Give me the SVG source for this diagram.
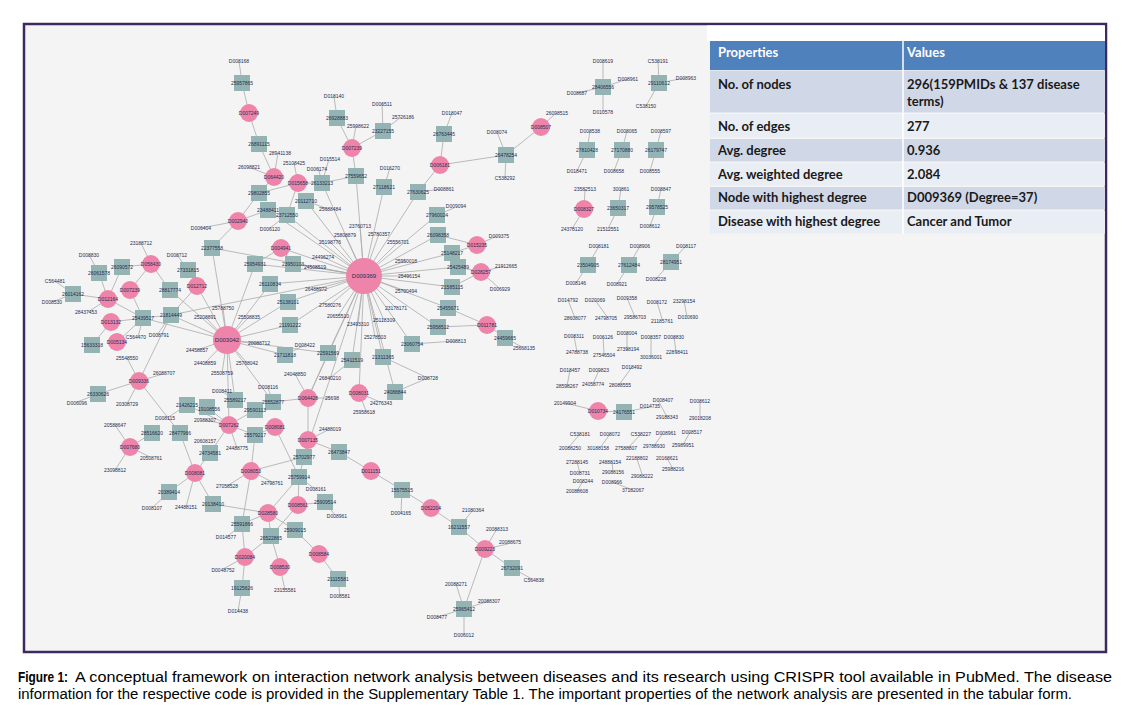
<svg xmlns="http://www.w3.org/2000/svg" width="1130" height="709" viewBox="0 0 1130 709">
<defs><style>
.e{stroke:#ababab;stroke-width:0.8;fill:none}
.p{fill:#ef84aa}
.s{fill:#94b4b4}
.t{font-family:'Liberation Sans',Arial,sans-serif;font-size:5px;fill:#1f2d50;text-anchor:middle;dominant-baseline:central}
.th{font-family:Lato,'Open Sans',sans-serif;font-size:13px;font-weight:bold;fill:#ffffff}
.tc{font-family:Lato,'Open Sans',sans-serif;font-size:13px;font-weight:bold;fill:#1a1a1a}
.cap{font-family:'Liberation Sans',Arial,sans-serif;font-size:14px;fill:#000}
</style></defs>
<rect x="0" y="0" width="1130" height="709" fill="#ffffff"/>
<rect x="24" y="24" width="1082" height="628" fill="#f4f4f4" stroke="#3f2860" stroke-width="2.5"/>
<rect x="707" y="25.5" width="398" height="16" fill="#ffffff"/>

<g id="connectors" class="e">
<path d="M239 61L242 83M242 83L249 113M249 113L259 144M259 144L274 177M278 153L274 177M251 168L274 177M274 177L259 193M298 183L259 193M298 183L294 163M298 183L322 183M298 183L287 215M322 183L318 167M322 183L329 159M322 183L356 176M356 176L352 148M352 148L337 118M337 118L334 96M352 148L356 126M352 148L383 131M383 131L382 104M383 131L401 117M356 176L364 276"/>
<path d="M440 165L444 134M444 134L452 113M440 165L418 192M418 192L442 189M418 192L364 276M440 165L506 155M506 155L497 132M506 155L505 178M506 155L541 127M541 127L555 114M384 187L390 168M384 187L364 276M437 215L454 208M437 215L364 276"/>
<path d="M238 221L268 210M238 221L201 228M268 210L364 276M287 215L270 228M287 215L364 276M306 201L328 209M306 201L364 276M259 193L238 221M238 221L212 248M322 183L364 276"/>
<path d="M603 87L603 61M603 87L628 79M603 87L577 93M603 87L603 112M659 83L658 61M659 83L685 78M659 83L646 106M587 150L590 131M587 150L577 171M622 150L627 131M622 150L614 171M656 150L661 131M656 150L650 171M584 209L585 189M584 209L572 229M618 208L621 189M618 208L608 229M657 207L661 189M657 207L650 226"/>
<path d="M588 265L599 246M588 265L576 283M629 265L640 246M629 265L617 284M671 262L686 246M671 262L656 279M568 300L575 318M595 300L608 318M627 298L635 317M657 302L662 319M684 301L687 317M574 336L577 352M603 337L604 354M627 333L627 351M651 337L651 357M674 337L676 352M570 370L567 386M599 370L593 384M632 367L619 385"/>
<path d="M598 411L565 403M598 411L624 412M624 412L650 407M659 402L667 417M700 401L700 418M580 434L568 448M610 434L600 448M641 434L628 448M663 433L654 446M690 432L683 445M577 462L580 473M612 462L613 472M637 459L642 474M667 458L673 469M583 481L577 491M612 482L633 490"/>
<path d="M364 276L360 226M364 276L345 235M364 276L330 242M364 276L379 234M364 276L398 242M364 276L323 257M364 276L406 261M364 276L315 267M364 276L409 276M364 276L316 289M364 276L406 291M364 276L330 305M364 276L396 308M364 276L338 316M364 276L384 320M364 276L358 324M364 276L375 337"/>
<path d="M364 276L438 235M364 276L452 253M364 276L458 267M364 276L452 287M364 276L448 308M364 276L438 327M477 245L438 235M477 245L452 253M481 272L458 267M481 272L452 287M481 272L504 266M481 272L499 288M487 325L448 308M487 325L438 327M487 325L505 338M505 338L522 347M364 276L412 344M412 344L456 341M477 245L497 236"/>
<path d="M364 276L352 360M364 276L383 357M364 276L328 353M364 276L290 325M364 276L288 302M364 276L308 398M364 276L395 392M364 276L359 393M364 276L304 457M364 276L281 248M364 276L293 264M364 276L255 264M364 276L270 284M364 276L212 248M364 276L171 315M352 360L330 378M383 357L428 378M395 392L428 378M359 393L380 402M359 393L366 411M281 248L255 264M281 248L293 264"/>
<path d="M227 340L223 308M227 340L205 317M227 340L249 317M227 340L197 350M227 340L205 363M227 340L222 373M227 340L247 363M227 340L259 343M227 340L290 325M227 340L285 355M227 340L171 315M227 340L143 318M227 340L197 286M227 340L170 290M227 340L212 248M227 340L255 264M227 340L270 284M227 340L273 402M227 340L235 400M227 340L229 425M227 340L288 302M227 340L328 353M285 355L303 346M328 353L308 398M308 398L295 374M308 398L330 398M308 398L273 402M308 398L308 440M268 388L273 402M223 392L235 400"/>
<path d="M89 255L99 273M99 273L108 299M122 267L151 264M122 267L108 299M141 243L151 264M151 264L170 290M55 281L73 294M52 302L73 294M73 294L108 299M88 312L108 299M130 290L143 318M108 299L143 318M111 322L143 318M111 322L92 345M117 342L143 318M138 337L143 318M143 318L171 315M171 315L157 335M177 255L188 270M188 270L197 286M197 286L171 315M130 290L151 264M127 358L139 381M139 381L98 394M139 381L163 374M139 381L127 404M139 381L171 315M139 381L180 433M98 394L77 402M167 418L187 405M187 405L229 425M207 407L229 425M115 425L130 447M130 447L150 457M130 447L115 470M130 447L152 433"/>
<path d="M229 425L255 410M229 425L210 453M229 425L205 420M229 425L237 448M229 425L255 435M275 427L255 435M275 427L299 477M308 440L339 452M308 440L304 457M308 440L328 430M304 457L251 471M304 457L299 477M251 471L255 435M251 471L227 486M251 471L272 482M251 471L242 524M299 477L298 505M299 477L268 513M299 477L315 489M195 473L210 453M195 473L169 492M195 473L186 507M195 473L213 504M195 473L180 433M169 492L152 508M213 504L268 513M268 513L242 524M268 513L271 536M268 513L295 530M298 505L325 502M298 505L271 536M325 502L335 515M242 524L245 557M242 524L228 536M271 536L245 557M271 536L280 567M295 530L319 554M319 554L338 579M338 579L340 596M245 557L242 588M245 557L223 569M242 588L238 611M280 567L285 590M339 452L371 471M371 471L402 490"/>
<path d="M402 490L401 513M402 490L431 508M431 508L459 527M459 527L473 510M459 527L485 549M485 549L497 529M485 549L508 544M485 549L512 568M512 568L532 579M485 549L464 609M464 609L456 584M464 609L489 601M464 609L437 617M464 609L464 635"/>
</g>

<g id="node-top-chain">
<g id="n1"><text class="t" x="239" y="61">D008168</text></g>
<g id="n2"><rect class="s" x="234" y="75" width="16" height="16"/><text class="t" x="242" y="83">25957865</text></g>
<g id="n3"><circle class="p" cx="249" cy="113" r="9"/><text class="t" x="249" y="113">D007249</text></g>
<g id="n4"><rect class="s" x="251" y="136" width="16" height="16"/><text class="t" x="259" y="144">26891115</text></g>
<g id="n5"><circle class="p" cx="274" cy="177" r="9"/><text class="t" x="274" y="177">D064420</text></g>
<g id="n6"><text class="t" x="280" y="153">28941138</text></g>
<g id="n7"><text class="t" x="249" y="167">26098821</text></g>
<g id="n8"><circle class="p" cx="298" cy="183" r="9"/><text class="t" x="298" y="183">D015658</text></g>
<g id="n9"><text class="t" x="294" y="163">25108425</text></g>
<g id="n10"><text class="t" x="317" y="169">D006174</text></g>
<g id="n11"><text class="t" x="330" y="159">D015514</text></g>
<g id="n12"><rect class="s" x="314" y="175" width="16" height="16"/><text class="t" x="322" y="183">26133213</text></g>
<g id="n13"><rect class="s" x="251" y="185" width="16" height="16"/><text class="t" x="259" y="193">29802855</text></g>
<g id="n14"><rect class="s" x="348" y="168" width="16" height="16"/><text class="t" x="356" y="176">27559652</text></g>
<g id="n15"><circle class="p" cx="352" cy="148" r="9"/><text class="t" x="352" y="148">D007239</text></g>
<g id="n16"><rect class="s" x="329" y="110" width="16" height="16"/><text class="t" x="337" y="118">26928883</text></g>
<g id="n17"><text class="t" x="334" y="96">D018140</text></g>
<g id="n18"><text class="t" x="358" y="126">25998622</text></g>
<g id="n19"><rect class="s" x="375" y="123" width="16" height="16"/><text class="t" x="383" y="131">23227155</text></g>
<g id="n20"><text class="t" x="382" y="104">D006511</text></g>
<g id="n21"><text class="t" x="403" y="117">25726186</text></g>
<g id="n22"><circle class="p" cx="440" cy="165" r="9"/><text class="t" x="440" y="165">D006181</text></g>
<g id="n23"><rect class="s" x="436" y="126" width="16" height="16"/><text class="t" x="444" y="134">26763445</text></g>
<g id="n24"><text class="t" x="452" y="113">D018047</text></g>
<g id="n25"><rect class="s" x="410" y="184" width="16" height="16"/><text class="t" x="418" y="192">27630625</text></g>
<g id="n26"><text class="t" x="444" y="189">D008861</text></g>
<g id="n27"><rect class="s" x="376" y="179" width="16" height="16"/><text class="t" x="384" y="187">27118621</text></g>
<g id="n28"><text class="t" x="390" y="168">D016270</text></g>
<g id="n29"><rect class="s" x="429" y="207" width="16" height="16"/><text class="t" x="437" y="215">27960024</text></g>
<g id="n30"><text class="t" x="456" y="206">D009094</text></g>
<g id="n31"><rect class="s" x="498" y="147" width="16" height="16"/><text class="t" x="506" y="155">26478254</text></g>
<g id="n32"><text class="t" x="497" y="132">D008074</text></g>
<g id="n33"><text class="t" x="505" y="178">C538292</text></g>
<g id="n34"><circle class="p" cx="541" cy="127" r="9"/><text class="t" x="541" y="127">D008507</text></g>
<g id="n35"><text class="t" x="557" y="113">26098515</text></g>
<g id="n36"><circle class="p" cx="238" cy="221" r="9"/><text class="t" x="238" y="221">D002940</text></g>
<g id="n37"><rect class="s" x="260" y="202" width="16" height="16"/><text class="t" x="268" y="210">23488411</text></g>
<g id="n38"><text class="t" x="201" y="228">D006404</text></g>
<g id="n39"><rect class="s" x="279" y="207" width="16" height="16"/><text class="t" x="287" y="215">23712550</text></g>
<g id="n40"><text class="t" x="270" y="229">D006120</text></g>
<g id="n41"><rect class="s" x="298" y="193" width="16" height="16"/><text class="t" x="306" y="201">20112710</text></g>
<g id="n42"><text class="t" x="330" y="209">25688484</text></g>
</g>

<g id="node-top-right">
<g id="n50"><rect class="s" x="595" y="79" width="16" height="16"/><text class="t" x="603" y="87">28406556</text></g>
<g id="n51"><text class="t" x="603" y="61">D008619</text><text class="t" x="628" y="79">D008961</text><text class="t" x="577" y="93">D008687</text><text class="t" x="603" y="112">D010578</text></g>
<g id="n52"><rect class="s" x="651" y="75" width="16" height="16"/><text class="t" x="659" y="83">29110612</text></g>
<g id="n53"><text class="t" x="658" y="61">C538191</text><text class="t" x="686" y="78">D008963</text><text class="t" x="646" y="106">C538150</text></g>
<g id="n54"><rect class="s" x="579" y="142" width="16" height="16"/><text class="t" x="587" y="150">27810428</text><text class="t" x="590" y="131">D008538</text><text class="t" x="577" y="171">D018471</text></g>
<g id="n55"><rect class="s" x="614" y="142" width="16" height="16"/><text class="t" x="622" y="150">27170880</text><text class="t" x="627" y="131">D008065</text><text class="t" x="614" y="171">D008658</text></g>
<g id="n56"><rect class="s" x="648" y="142" width="16" height="16"/><text class="t" x="656" y="150">26179747</text><text class="t" x="661" y="131">D008597</text><text class="t" x="650" y="171">D008555</text></g>
<g id="n57"><circle class="p" cx="584" cy="209" r="9"/><text class="t" x="584" y="209">D008327</text><text class="t" x="585" y="189">23582513</text><text class="t" x="572" y="229">24378120</text></g>
<g id="n58"><rect class="s" x="610" y="200" width="16" height="16"/><text class="t" x="618" y="208">23650317</text><text class="t" x="621" y="189">300861</text><text class="t" x="608" y="229">21512551</text></g>
<g id="n59"><rect class="s" x="649" y="199" width="16" height="16"/><text class="t" x="657" y="207">29578525</text><text class="t" x="661" y="189">D008847</text><text class="t" x="650" y="226">D008612</text></g>
<g id="n60"><rect class="s" x="580" y="257" width="16" height="16"/><text class="t" x="588" y="265">23504905</text><text class="t" x="599" y="246">D008181</text><text class="t" x="576" y="283">D008146</text></g>
<g id="n61"><rect class="s" x="621" y="257" width="16" height="16"/><text class="t" x="629" y="265">27612484</text><text class="t" x="640" y="246">D008906</text><text class="t" x="617" y="284">D008921</text></g>
<g id="n62"><rect class="s" x="663" y="254" width="16" height="16"/><text class="t" x="671" y="262">28174951</text><text class="t" x="686" y="246">D008117</text><text class="t" x="656" y="279">D008228</text></g>
<g id="n63"><text class="t" x="568" y="300">D014792</text><text class="t" x="575" y="318">28608077</text></g>
<g id="n64"><text class="t" x="595" y="300">D020069</text><text class="t" x="606" y="318">24798705</text></g>
<g id="n65"><text class="t" x="627" y="298">D009358</text><text class="t" x="635" y="317">29586703</text></g>
<g id="n66"><text class="t" x="657" y="302">D008172</text><text class="t" x="662" y="321">21185761</text></g>
<g id="n67"><text class="t" x="684" y="301">23298154</text><text class="t" x="688" y="317">D010690</text></g>
<g id="n68"><text class="t" x="574" y="336">D008311</text><text class="t" x="577" y="352">24788738</text></g>
<g id="n69"><text class="t" x="603" y="337">D006126</text><text class="t" x="604" y="355">27546504</text></g>
<g id="n70"><text class="t" x="627" y="333">D008004</text><text class="t" x="628" y="349">27398194</text></g>
<g id="n71"><text class="t" x="651" y="337">D008357</text><text class="t" x="651" y="357">30036001</text></g>
<g id="n72"><text class="t" x="674" y="337">D008830</text><text class="t" x="677" y="352">22898411</text></g>
<g id="n73"><text class="t" x="570" y="370">D018457</text><text class="t" x="567" y="386">28598267</text></g>
<g id="n74"><text class="t" x="599" y="370">D009823</text><text class="t" x="593" y="384">24058774</text></g>
<g id="n75"><text class="t" x="632" y="367">D018492</text><text class="t" x="620" y="385">28088555</text></g>
<g id="n76"><circle class="p" cx="598" cy="411" r="9"/><text class="t" x="598" y="411">D010734</text><text class="t" x="565" y="403">20149904</text></g>
<g id="n77"><rect class="s" x="616" y="404" width="16" height="16"/><text class="t" x="624" y="412">24176551</text><text class="t" x="650" y="406">D014735</text></g>
<g id="n78"><text class="t" x="663" y="400">D008407</text><text class="t" x="667" y="417">29188343</text></g>
<g id="n79"><text class="t" x="700" y="401">D008612</text><text class="t" x="700" y="418">29018208</text></g>
<g id="n80"><text class="t" x="580" y="434">C538181</text><text class="t" x="570" y="448">20088250</text></g>
<g id="n81"><text class="t" x="610" y="434">D008072</text><text class="t" x="598" y="448">30188158</text></g>
<g id="n82"><text class="t" x="641" y="434">C538227</text><text class="t" x="626" y="448">27588807</text></g>
<g id="n83"><text class="t" x="666" y="433">D008961</text><text class="t" x="654" y="446">29788930</text></g>
<g id="n84"><text class="t" x="692" y="432">D008517</text><text class="t" x="683" y="445">25989951</text></g>
<g id="n85"><text class="t" x="577" y="462">27288145</text><text class="t" x="580" y="473">D008731</text></g>
<g id="n86"><text class="t" x="610" y="462">24888154</text><text class="t" x="613" y="472">29088156</text></g>
<g id="n87"><text class="t" x="637" y="458">22188802</text><text class="t" x="642" y="476">29088222</text></g>
<g id="n88"><text class="t" x="667" y="458">20168621</text><text class="t" x="673" y="469">25988216</text></g>
<g id="n89"><text class="t" x="583" y="481">D008244</text><text class="t" x="577" y="491">20088608</text></g>
<g id="n90"><text class="t" x="612" y="482">D008966</text><text class="t" x="633" y="490">37182067</text></g>
</g>

<g id="node-hub-area">
<g id="n100"><text class="t" x="360" y="226">23760713</text><text class="t" x="345" y="235">25808879</text><text class="t" x="330" y="242">25198776</text><text class="t" x="379" y="234">25780357</text><text class="t" x="398" y="242">25556701</text><text class="t" x="323" y="257">24496274</text><text class="t" x="406" y="261">25950018</text><text class="t" x="315" y="267">24508519</text><text class="t" x="409" y="276">25496154</text><text class="t" x="316" y="289">26488972</text><text class="t" x="406" y="291">25700494</text><text class="t" x="330" y="305">27580276</text><text class="t" x="396" y="308">23178171</text><text class="t" x="338" y="316">20655510</text><text class="t" x="384" y="320">25118309</text><text class="t" x="358" y="324">23493310</text><text class="t" x="375" y="337">25278503</text></g>
<g id="n101"><rect class="s" x="430" y="227" width="16" height="16"/><text class="t" x="438" y="235">26098358</text></g>
<g id="n102"><rect class="s" x="444" y="245" width="16" height="16"/><text class="t" x="452" y="253">25148217</text></g>
<g id="n103"><rect class="s" x="450" y="259" width="16" height="16"/><text class="t" x="458" y="267">25425489</text></g>
<g id="n104"><rect class="s" x="444" y="279" width="16" height="16"/><text class="t" x="452" y="287">21585115</text></g>
<g id="n105"><rect class="s" x="440" y="300" width="16" height="16"/><text class="t" x="448" y="308">25455671</text></g>
<g id="n106"><rect class="s" x="430" y="319" width="16" height="16"/><text class="t" x="438" y="327">25958512</text></g>
<g id="n107"><circle class="p" cx="477" cy="245" r="9"/><text class="t" x="477" y="245">D015235</text><text class="t" x="499" y="236">D009375</text></g>
<g id="n108"><circle class="p" cx="481" cy="272" r="9"/><text class="t" x="481" y="272">D028257</text><text class="t" x="506" y="266">21912665</text><text class="t" x="500" y="289">D006929</text></g>
<g id="n109"><circle class="p" cx="487" cy="325" r="9"/><text class="t" x="487" y="325">D011781</text></g>
<g id="n110"><rect class="s" x="497" y="330" width="16" height="16"/><text class="t" x="505" y="338">24459665</text><text class="t" x="524" y="348">25668135</text></g>
<g id="n111"><rect class="s" x="404" y="336" width="16" height="16"/><text class="t" x="412" y="344">23060754</text><text class="t" x="456" y="341">D008813</text></g>
<g id="n112"><rect class="s" x="344" y="352" width="16" height="16"/><text class="t" x="352" y="360">25411519</text><text class="t" x="330" y="378">26840210</text></g>
<g id="n113"><rect class="s" x="375" y="349" width="16" height="16"/><text class="t" x="383" y="357">21311365</text><text class="t" x="428" y="378">D008728</text></g>
<g id="n114"><rect class="s" x="387" y="384" width="16" height="16"/><text class="t" x="395" y="392">24088844</text></g>
<g id="n115"><circle class="p" cx="359" cy="393" r="9"/><text class="t" x="359" y="393">D008031</text><text class="t" x="381" y="403">24276343</text><text class="t" x="364" y="412">25958618</text></g>
<g id="n116"><circle class="p" cx="281" cy="248" r="9"/><text class="t" x="281" y="248">D004941</text></g>
<g id="n117"><rect class="s" x="247" y="256" width="16" height="16"/><text class="t" x="255" y="264">25954931</text></g>
<g id="n118"><rect class="s" x="262" y="276" width="16" height="16"/><text class="t" x="270" y="284">26110834</text></g>
<g id="n119"><rect class="s" x="285" y="256" width="16" height="16"/><text class="t" x="293" y="264">23950103</text></g>
<g id="n120"><rect class="s" x="204" y="240" width="16" height="16"/><text class="t" x="212" y="248">22377558</text></g>
<g id="n121"><rect class="s" x="282" y="317" width="16" height="16"/><text class="t" x="290" y="325">21191222</text></g>
<g id="n122"><rect class="s" x="277" y="347" width="16" height="16"/><text class="t" x="285" y="355">21711818</text><text class="t" x="305" y="345">D008422</text></g>
<g id="n123"><rect class="s" x="320" y="345" width="16" height="16"/><text class="t" x="328" y="353">22591569</text></g>
<g id="n124"><rect class="s" x="280" y="294" width="16" height="16"/><text class="t" x="288" y="302">25138101</text></g>
<g id="n125"><circle cx="364" cy="276" r="18" class="p"/><text class="t" x="364" y="276" style="font-size:6px">D009369</text></g>
<g id="n126"><circle cx="227" cy="340" r="14" class="p"/><text class="t" x="227" y="340" style="font-size:6px">D003042</text></g>
<g id="n127"><text class="t" x="223" y="308">25788750</text><text class="t" x="205" y="317">25208891</text><text class="t" x="249" y="317">25508835</text><text class="t" x="197" y="350">24458857</text><text class="t" x="205" y="363">24408859</text><text class="t" x="222" y="373">25508759</text><text class="t" x="247" y="363">25768042</text><text class="t" x="259" y="343">20088712</text></g>
<g id="n128"><circle class="p" cx="308" cy="398" r="9"/><text class="t" x="308" y="398">D064428</text><text class="t" x="295" y="374">24048850</text><text class="t" x="332" y="398">25698</text></g>
<g id="n129"><rect class="s" x="265" y="394" width="16" height="16"/><text class="t" x="273" y="402">25552877</text><text class="t" x="268" y="387">D008116</text></g>
<g id="n130"><rect class="s" x="227" y="392" width="16" height="16"/><text class="t" x="235" y="400">25589217</text><text class="t" x="222" y="391">D008411</text></g>
<g id="n131"><rect class="s" x="247" y="402" width="16" height="16"/><text class="t" x="255" y="410">29590113</text></g>
</g>

<g id="node-left">
<g id="n140"><text class="t" x="89" y="255">D008830</text></g>
<g id="n141"><rect class="s" x="91" y="265" width="16" height="16"/><text class="t" x="99" y="273">26061578</text></g>
<g id="n142"><rect class="s" x="114" y="259" width="16" height="16"/><text class="t" x="122" y="267">26090572</text></g>
<g id="n143"><circle class="p" cx="151" cy="264" r="9"/><text class="t" x="151" y="264">D058430</text><text class="t" x="141" y="243">23188712</text></g>
<g id="n144"><rect class="s" x="65" y="286" width="16" height="16"/><text class="t" x="73" y="294">26014162</text><text class="t" x="55" y="281">C564481</text><text class="t" x="52" y="302">D008530</text></g>
<g id="n145"><circle class="p" cx="108" cy="299" r="9"/><text class="t" x="108" y="299">D012164</text><text class="t" x="86" y="312">28437453</text></g>
<g id="n146"><circle class="p" cx="130" cy="290" r="9"/><text class="t" x="130" y="290">D007239</text></g>
<g id="n147"><rect class="s" x="135" y="310" width="16" height="16"/><text class="t" x="143" y="318">25439517</text><text class="t" x="136" y="337">C564470</text></g>
<g id="n148"><rect class="s" x="163" y="307" width="16" height="16"/><text class="t" x="171" y="315">21814449</text><text class="t" x="159" y="335">D008791</text></g>
<g id="n149"><circle class="p" cx="111" cy="322" r="9"/><text class="t" x="111" y="322">D013132</text></g>
<g id="n150"><circle class="p" cx="117" cy="342" r="9"/><text class="t" x="117" y="342">D005134</text></g>
<g id="n151"><rect class="s" x="84" y="337" width="16" height="16"/><text class="t" x="92" y="345">15633318</text></g>
<g id="n152"><rect class="s" x="180" y="262" width="16" height="16"/><text class="t" x="188" y="270">27331815</text><text class="t" x="177" y="255">D008712</text></g>
<g id="n153"><circle class="p" cx="197" cy="286" r="9"/><text class="t" x="197" y="286">D012712</text></g>
<g id="n154"><rect class="s" x="162" y="282" width="16" height="16"/><text class="t" x="170" y="290">28817774</text></g>
<g id="n155"><circle class="p" cx="139" cy="381" r="9"/><text class="t" x="139" y="381">D009336</text><text class="t" x="127" y="358">25548550</text><text class="t" x="164" y="373">26088707</text><text class="t" x="127" y="404">20308729</text></g>
<g id="n156"><rect class="s" x="90" y="386" width="16" height="16"/><text class="t" x="98" y="394">26330626</text><text class="t" x="77" y="403">D006096</text></g>
<g id="n157"><rect class="s" x="179" y="397" width="16" height="16"/><text class="t" x="187" y="405">21426215</text><text class="t" x="165" y="418">D008115</text></g>
<g id="n158"><rect class="s" x="199" y="399" width="16" height="16"/><text class="t" x="209" y="409">19108556</text></g>
<g id="n159"><rect class="s" x="172" y="425" width="16" height="16"/><text class="t" x="180" y="433">28477966</text><text class="t" x="205" y="441">20608157</text></g>
<g id="n160"><circle class="p" cx="130" cy="447" r="9"/><text class="t" x="130" y="447">D007680</text><text class="t" x="115" y="425">20588647</text><text class="t" x="151" y="458">20508761</text><text class="t" x="115" y="470">23098812</text></g>
<g id="n161"><rect class="s" x="144" y="425" width="16" height="16"/><text class="t" x="152" y="433">28516620</text></g>
</g>

<g id="node-bottom">
<g id="n170"><circle class="p" cx="229" cy="425" r="9"/><text class="t" x="229" y="425">D007262</text><text class="t" x="205" y="420">20988307</text><text class="t" x="237" y="448">24488775</text></g>
<g id="n171"><circle class="p" cx="275" cy="427" r="9"/><text class="t" x="275" y="427">D008081</text></g>
<g id="n172"><rect class="s" x="247" y="427" width="16" height="16"/><text class="t" x="255" y="435">25579217</text></g>
<g id="n173"><circle class="p" cx="308" cy="440" r="9"/><text class="t" x="308" y="440">D007135</text><text class="t" x="330" y="429">24488019</text></g>
<g id="n174"><rect class="s" x="296" y="449" width="16" height="16"/><text class="t" x="304" y="457">25702977</text></g>
<g id="n175"><rect class="s" x="331" y="444" width="16" height="16"/><text class="t" x="339" y="452">26473847</text></g>
<g id="n176"><circle class="p" cx="371" cy="471" r="9"/><text class="t" x="371" y="471">D011151</text></g>
<g id="n177"><circle class="p" cx="195" cy="473" r="9"/><text class="t" x="195" y="473">D008081</text><text class="t" x="186" y="507">24488151</text></g>
<g id="n178"><rect class="s" x="202" y="445" width="16" height="16"/><text class="t" x="210" y="453">24734581</text></g>
<g id="n179"><circle class="p" cx="251" cy="471" r="9"/><text class="t" x="251" y="471">D008053</text><text class="t" x="227" y="486">27058528</text><text class="t" x="272" y="483">24798761</text></g>
<g id="n180"><rect class="s" x="291" y="469" width="16" height="16"/><text class="t" x="299" y="477">25759914</text><text class="t" x="316" y="489">D008161</text></g>
<g id="n181"><rect class="s" x="161" y="484" width="16" height="16"/><text class="t" x="169" y="492">20389414</text><text class="t" x="152" y="508">D008107</text></g>
<g id="n182"><rect class="s" x="205" y="496" width="16" height="16"/><text class="t" x="213" y="504">20138410</text></g>
<g id="n183"><circle class="p" cx="298" cy="505" r="9"/><text class="t" x="298" y="505">D008561</text></g>
<g id="n184"><rect class="s" x="317" y="494" width="16" height="16"/><text class="t" x="325" y="502">25909514</text><text class="t" x="337" y="516">D008961</text></g>
<g id="n185"><circle class="p" cx="268" cy="513" r="9"/><text class="t" x="268" y="513">D028580</text></g>
<g id="n186"><rect class="s" x="234" y="516" width="16" height="16"/><text class="t" x="242" y="524">25591866</text><text class="t" x="226" y="537">D014577</text></g>
<g id="n187"><rect class="s" x="287" y="522" width="16" height="16"/><text class="t" x="295" y="530">25909015</text></g>
<g id="n188"><rect class="s" x="263" y="528" width="16" height="16"/><text class="t" x="271" y="538">26522865</text></g>
<g id="n189"><circle class="p" cx="245" cy="557" r="9"/><text class="t" x="245" y="557">D020084</text><text class="t" x="223" y="570">D0048752</text></g>
<g id="n190"><circle class="p" cx="319" cy="554" r="9"/><text class="t" x="319" y="554">D008584</text></g>
<g id="n191"><circle class="p" cx="280" cy="567" r="9"/><text class="t" x="280" y="567">D008530</text><text class="t" x="285" y="590">23155581</text></g>
<g id="n192"><rect class="s" x="330" y="571" width="16" height="16"/><text class="t" x="338" y="579">21115581</text><text class="t" x="340" y="596">D008581</text></g>
<g id="n193"><rect class="s" x="234" y="580" width="16" height="16"/><text class="t" x="242" y="588">19125626</text><text class="t" x="238" y="611">D014438</text></g>
<g id="n194"><rect class="s" x="394" y="482" width="16" height="16"/><text class="t" x="402" y="490">15575515</text><text class="t" x="401" y="513">D004165</text></g>
<g id="n195"><circle class="p" cx="431" cy="508" r="9"/><text class="t" x="431" y="508">D052204</text></g>
<g id="n196"><rect class="s" x="451" y="519" width="16" height="16"/><text class="t" x="459" y="527">16211557</text><text class="t" x="473" y="510">21080364</text></g>
<g id="n197"><circle class="p" cx="485" cy="549" r="9"/><text class="t" x="485" y="549">D009223</text><text class="t" x="497" y="529">20088313</text><text class="t" x="510" y="542">20088675</text></g>
<g id="n198"><rect class="s" x="504" y="560" width="16" height="16"/><text class="t" x="512" y="568">26732091</text><text class="t" x="534" y="580">C564838</text></g>
<g id="n199"><rect class="s" x="456" y="601" width="16" height="16"/><text class="t" x="464" y="609">25965412</text><text class="t" x="456" y="584">20088271</text><text class="t" x="489" y="601">20088307</text><text class="t" x="437" y="617">D008477</text><text class="t" x="464" y="635">D006012</text></g>
</g>

<g id="table">
<rect x="710" y="41" width="395" height="29" fill="#4f81bd"/>
<rect x="710" y="70.5" width="395" height="42" fill="#d0d8e8"/>
<rect x="710" y="114" width="395" height="23.5" fill="#e9edf4"/>
<rect x="710" y="139" width="395" height="22.5" fill="#d0d8e8"/>
<rect x="710" y="163" width="395" height="22.5" fill="#e9edf4"/>
<rect x="710" y="187" width="395" height="22.5" fill="#d0d8e8"/>
<rect x="710" y="211" width="395" height="22.5" fill="#e9edf4"/>
<line x1="903" y1="41" x2="903" y2="234" stroke="#ffffff" stroke-width="1.5"/>
<text class="th" x="718" y="57">Properties</text>
<text class="th" x="907" y="57">Values</text>
<text class="tc" x="718" y="89">No. of nodes</text>
<text class="tc" x="907" y="89">296(159PMIDs &amp; 137 disease</text>
<text class="tc" x="907" y="106">terms)</text>
<text class="tc" x="718" y="131">No. of edges</text>
<text class="tc" x="907" y="131">277</text>
<text class="tc" x="718" y="155">Avg. degree</text>
<text class="tc" x="907" y="155">0.936</text>
<text class="tc" x="718" y="179">Avg. weighted degree</text>
<text class="tc" x="907" y="179">2.084</text>
<text class="tc" x="718" y="202">Node with highest degree</text>
<text class="tc" x="907" y="202">D009369 (Degree=37)</text>
<text class="tc" x="718" y="226">Disease with highest degree</text>
<text class="tc" x="907" y="226">Cancer and Tumor</text>
</g>

<g id="caption">
<text class="cap" x="18" y="682" font-weight="bold" textLength="50" lengthAdjust="spacingAndGlyphs">Figure 1:</text>
<text class="cap" x="75" y="682" textLength="1037" lengthAdjust="spacingAndGlyphs">A conceptual framework on interaction network analysis between diseases and its research using CRISPR tool available in PubMed. The disease</text>
<text class="cap" x="18" y="699" textLength="1054" lengthAdjust="spacingAndGlyphs">information for the respective code is provided in the Supplementary Table 1. The important properties of the network analysis are presented in the tabular form.</text>
</g>
</svg>
